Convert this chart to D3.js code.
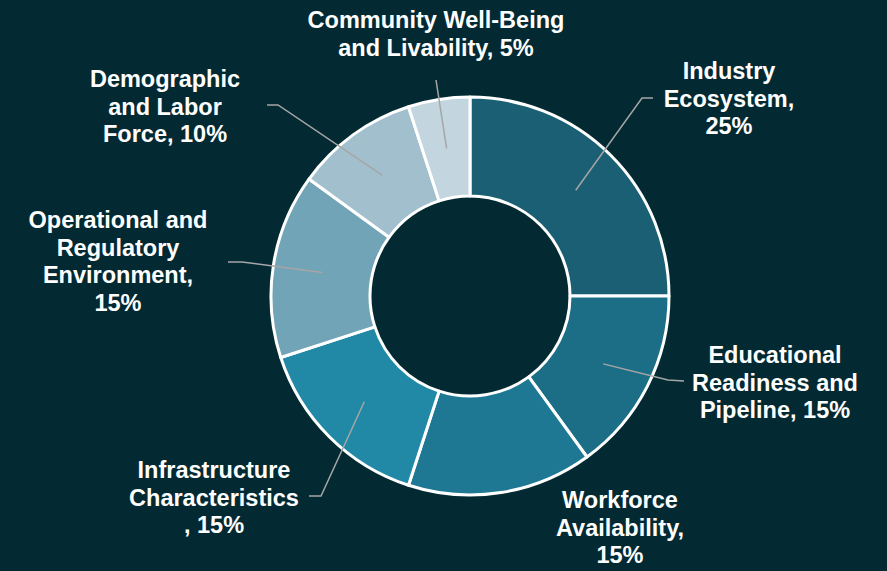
<!DOCTYPE html>
<html>
<head>
<meta charset="utf-8">
<script src="https://cdn.jsdelivr.net/npm/d3@7"></script>
<style>
  html, body { margin: 0; padding: 0; background: #032a33; }
  svg { display: block; }
</style>
</head>
<body>
<svg id="chart" width="887" height="571"></svg>
<script>
// ---- Data ----
const categories = [
  "Industry Ecosystem",
  "Educational Readiness and Pipeline",
  "Workforce Availability",
  "Infrastructure Characteristics",
  "Operational and Regulatory Environment",
  "Demographic and Labor Force",
  "Community Well-Being and Livability"
];
const values = [25, 15, 15, 15, 15, 10, 5];
const labelLines = [
  ["Industry", "Ecosystem,", "25%"],
  ["Educational", "Readiness and", "Pipeline, 15%"],
  ["Workforce", "Availability,", "15%"],
  ["Infrastructure", "Characteristics", ", 15%"],
  ["Operational and", "Regulatory", "Environment,", "15%"],
  ["Demographic", "and Labor", "Force, 10%"],
  ["Community Well-Being", "and Livability, 5%"]
];
const colors = ["#1a5f73", "#1b6e86", "#1e7894", "#2189a6", "#72a4b7", "#a2bfcd", "#c3d5de"];

// ---- Layout (label anchor + leader elbow/end) ----
const labelLayout = [
  { x: 729, y: 79,  leader: [[642, 98], [653, 98]] },
  { x: 775, y: 363, leader: [[668, 380], [684, 381]] },
  { x: 620, y: 508, leader: null },
  { x: 214, y: 478, leader: [[321, 496], [309, 496]] },
  { x: 118, y: 228, leader: [[242, 262], [228, 262]] },
  { x: 165, y: 87,  leader: [[278, 105], [267, 105]] },
  { x: 436, y: 28,  leader: [[436, 80], [436, 80]] }
];

const W = 887, H = 571;
const cx = 470, cy = 296, R = 199, r0 = 100;
const lineH = 27.5;

const svg = d3.select("#chart");
svg.append("rect").attr("width", W).attr("height", H).attr("fill", "#032a33");

const data = categories.map((c, i) => ({ name: c, value: values[i], i }));
const pie = d3.pie().value(d => d.value).sort(null).startAngle(0).endAngle(2 * Math.PI);
const arcs = pie(data);
const arc = d3.arc().innerRadius(r0).outerRadius(R);
const colorScale = d3.scaleOrdinal().domain(categories).range(colors);

const g = svg.append("g").attr("transform", `translate(${cx},${cy})`);
g.selectAll("path.slice")
  .data(arcs)
  .enter().append("path")
  .attr("class", "slice")
  .attr("d", arc)
  .attr("fill", d => colorScale(d.data.name))
  .attr("stroke", "#ffffff")
  .attr("stroke-width", 3)
  .attr("stroke-linejoin", "round");

// Leader lines
const line = d3.line();
arcs.forEach((a, i) => {
  const lay = labelLayout[i];
  if (!lay.leader) return;
  const c = arc.centroid(a);
  const pts = [[c[0] + cx, c[1] + cy]].concat(lay.leader);
  svg.append("path")
    .attr("d", line(pts))
    .attr("fill", "none")
    .attr("stroke", "#a6a6a6")
    .attr("stroke-width", 1.5);
});

// Labels
arcs.forEach((a, i) => {
  const lay = labelLayout[i];
  const t = svg.append("text")
    .attr("x", lay.x)
    .attr("y", lay.y)
    .attr("text-anchor", "middle")
    .attr("fill", "#ffffff")
    .attr("font-family", "Liberation Sans, Arial, sans-serif")
    .attr("font-weight", "bold")
    .attr("font-size", "23.5px");
  labelLines[i].forEach((ln, k) => {
    t.append("tspan").attr("x", lay.x).attr("y", lay.y + k * lineH).text(ln);
  });
});
</script>
</body>
</html>
